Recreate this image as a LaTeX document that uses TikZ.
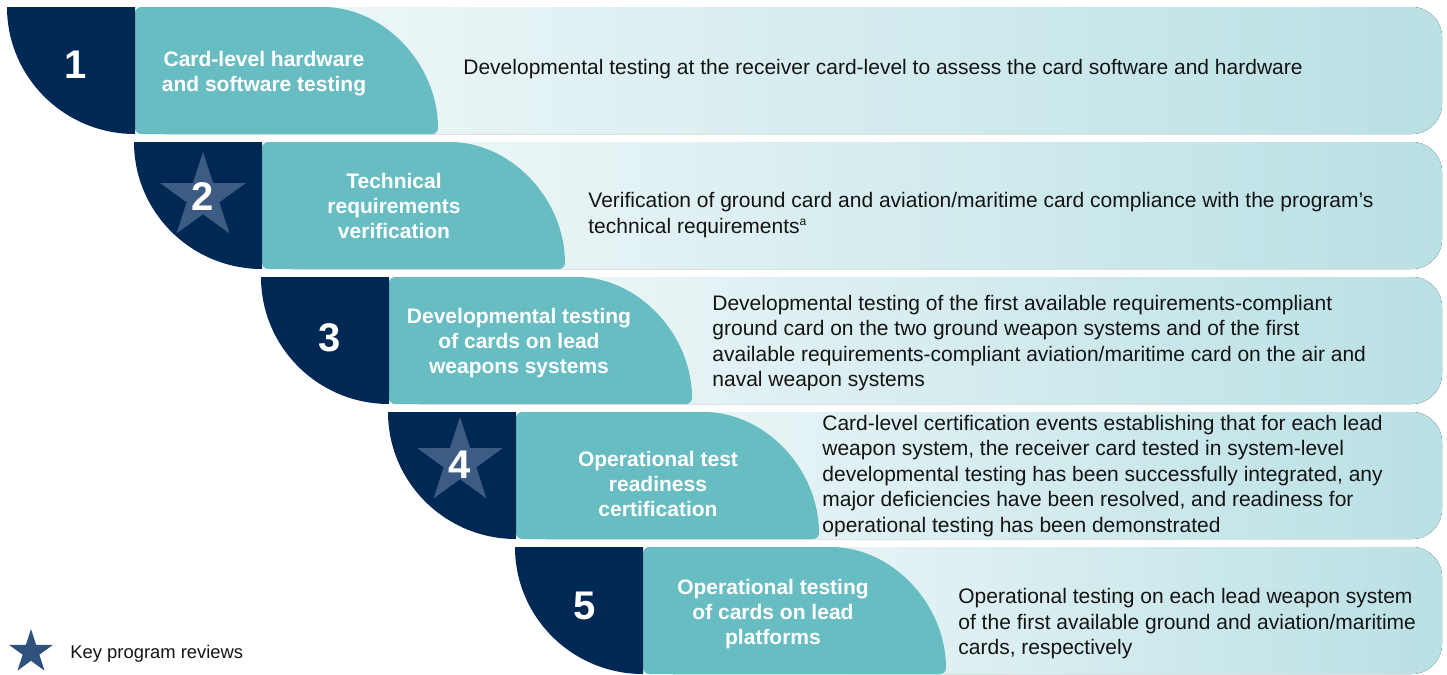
\documentclass[tikz,border=0pt]{standalone}
\usepackage{fontspec}
\setmainfont{Liberation Sans}
\usepackage{tikz}
\definecolor{stagenavy}{RGB}{0,40,84}
\definecolor{stageteal}{RGB}{103,189,194}
\definecolor{stagestar}{RGB}{60,92,132}
\definecolor{keystar}{RGB}{46,82,124}
\definecolor{bandleft}{RGB}{246,250,251}
\definecolor{bandright}{RGB}{185,224,228}
\definecolor{bodytext}{RGB}{20,20,20}

\tikzset{
  stagenum/.style={text=white, font=\fontsize{20}{24}\selectfont\bfseries, inner sep=0pt},
  stagetitle/.style={text=white, align=center, inner sep=0pt,
    font=\fontsize{10.5}{12.5}\selectfont\bfseries},
  stagedesc/.style={text=bodytext, anchor=west, align=left, inner sep=0pt,
    font=\fontsize{10.5}{12.75}\selectfont},
  keymark/.pic={
    \fill (-90:1) -- (-54:0.382) -- (-18:1) -- (18:0.382) -- (54:1) -- (90:0.382)
      -- (126:1) -- (162:0.382) -- (198:1) -- (234:0.382) -- cycle;
  }
}

\begin{document}
\begin{tikzpicture}[x=0.5pt, y=-0.5pt]
  \useasboundingbox[fill=white] (0,0) rectangle (1447,675);

  % stage bands, teal heads and navy quarters
  \foreach \i in {0,...,4}{
    \pgfmathsetmacro\ox{7+127*\i}
    \pgfmathsetmacro\oy{7+135*\i}
    \fill[left color=bandleft, right color=bandright, rounded corners=15]
      (\ox+128,\oy) rectangle (1442,\oy+127);
    \fill[stageteal, rounded corners=3]
      (\ox+128,\oy) -- (\ox+310,\oy)
      arc[start angle=270, end angle=360, x radius=121, y radius=127]
      -- (\ox+128,\oy+127) -- cycle;
    \fill[stagenavy]
      (\ox+128,\oy) -- (\ox,\oy)
      arc[start angle=180, end angle=90, x radius=128, y radius=127]
      -- cycle;
  }

  % key review stars
  \pic[fill=stagestar, scale=45] (star2) at (203,197) {keymark};
  \pic[fill=stagestar, scale=45] (star4) at (460,462) {keymark};

  % stage numbers
  \node[stagenum] (num1) at (76,65) {1};
  \node[stagenum] (num2) at (203,197) {2};
  \node[stagenum] (num3) at (330,338) {3};
  \node[stagenum] (num4) at (460,465) {4};
  \node[stagenum] (num5) at (585,606) {5};

  % stage titles
  \node[stagetitle] (title1) at (264,74) {Card-level hardware\\and software testing};
  \node[stagetitle] (title2) at (394,206) {Technical\\requirements\\verification};
  \node[stagetitle] (title3) at (519,343) {Developmental testing\\of cards on lead\\weapons systems};
  \node[stagetitle] (title4) at (658,484) {Operational test\\readiness\\certification};
  \node[stagetitle] (title5) at (773,614) {Operational testing\\of cards on lead\\platforms};

  % stage descriptions
  \node[stagedesc] (desc1) at (463,69) {Developmental testing at the receiver card-level to assess the card software and hardware};
  \node[stagedesc] (desc2) at (588,215) {Verification of ground card and aviation/maritime card compliance with the program’s\\technical requirements\textsuperscript{\fontsize{6}{6}\selectfont a}};
  \node[stagedesc] (desc3) at (712,343) {Developmental testing of the first available requirements-compliant\\ground card on the two ground weapon systems and of the first\\available requirements-compliant aviation/maritime card on the air and\\naval weapon systems};
  \node[stagedesc] (desc4) at (822,476) {Card-level certification events establishing that for each lead\\weapon system, the receiver card tested in system-level\\developmental testing has been successfully integrated, any\\major deficiencies have been resolved, and readiness for\\operational testing has been demonstrated};
  \node[stagedesc] (desc5) at (958,624) {Operational testing on each lead weapon system\\of the first available ground and aviation/maritime\\cards, respectively};

  % legend
  \pic[fill=keystar, scale=23] (keystar) at (31,652) {keymark};
  \node[stagedesc, font=\fontsize{9.2}{11}\selectfont] (keylabel) at (70,654) {Key program reviews};
\end{tikzpicture}
\end{document}
